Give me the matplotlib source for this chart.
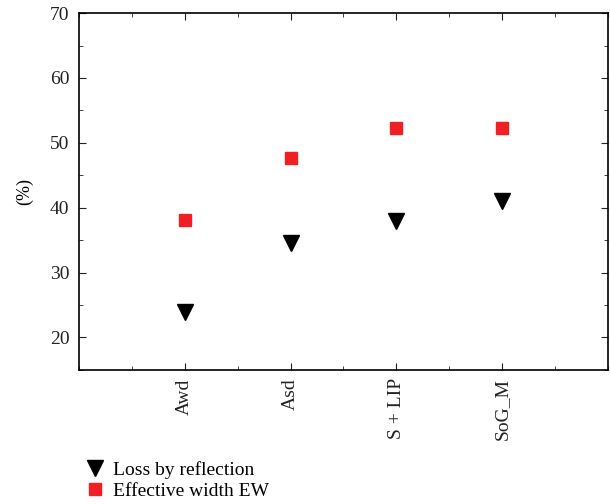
import matplotlib.pyplot as plt
import numpy as np
from matplotlib.ticker import MultipleLocator

plt.rcParams['font.family'] = 'Liberation Serif'
plt.rcParams['font.size'] = 14

methods = ['Awd', 'Asd', 'S + LIP', 'SoG_M']
loss_reflection = [24.0, 34.5, 38.0, 41.0]
effective_width = [38.1, 47.6, 52.3, 52.3]

x = np.arange(1, len(methods) + 1)

fig = plt.figure(figsize=(6.1, 5.04), dpi=100)
ax = fig.add_axes([0.1295, 0.266, 0.867, 0.708])

ax.plot(x, loss_reflection, 'v', color='black', markersize=11, linestyle='none',
        label='Loss by reflection')
ax.plot(x, effective_width, 's', color='#ee2024', markersize=8.5, linestyle='none',
        label='Effective width EW')

ax.set_xlim(0, 5)
ax.set_ylim(15, 70)
ax.set_xticks(x)
ax.set_xticklabels(methods, rotation=90)
ax.xaxis.set_minor_locator(MultipleLocator(0.5))
ax.set_yticks(np.arange(20, 71, 10))
ax.yaxis.set_minor_locator(MultipleLocator(5))
ax.tick_params(which='both', direction='in', top=True, right=True, color='#222222')
ax.tick_params(which='major', length=5, labelsize=14, colors='#222222')
ax.tick_params(which='minor', length=3)
ax.tick_params(axis='x', pad=6)
ax.tick_params(axis='y', pad=7)
for s in ax.spines.values():
    s.set_linewidth(1.2)
ax.set_ylabel('(%)', fontsize=13, labelpad=12)

fig.legend(loc='upper left', bbox_to_anchor=(0.124, 0.1), frameon=False,
           handletextpad=0.3, labelspacing=0.15, borderaxespad=0, fontsize=14,
           handlelength=1.2)

fig.savefig('out.png', dpi=100)
